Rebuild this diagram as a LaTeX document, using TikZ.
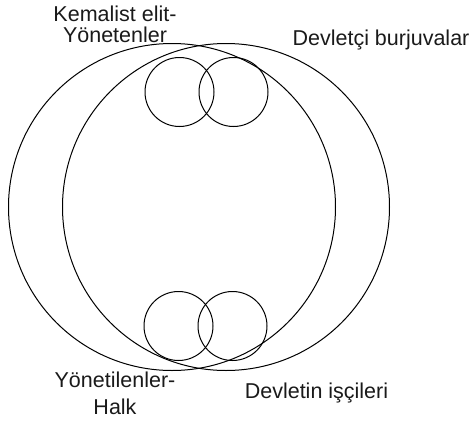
\documentclass[tikz,border=0pt]{standalone}
\usepackage{fontspec}
\setmainfont{Liberation Sans}
\usetikzlibrary{shapes.geometric, positioning}
\usepackage{xcolor}
\definecolor{ringline}{HTML}{000000}
\definecolor{labeltext}{HTML}{1A1A1A}

\begin{document}
\begin{tikzpicture}[
    x=1pt, y=-1pt,
    font=\fontsize{21.5}{21}\selectfont,
    bigring/.style={draw=ringline, circle, line width=1pt, inner sep=0pt, outer sep=0pt, minimum size=327pt},
    smallring/.style={draw=ringline, circle, line width=1pt, inner sep=0pt, outer sep=0pt, minimum size=69pt},
    lbl/.style={color=labeltext, align=center, inner sep=0pt},
]
\useasboundingbox (0,0) rectangle (472,421);

\node[bigring] (left) at (172,207) {};
\node[bigring] (right) at (226,207) {};

\node[smallring] (topa) at (179.5,92) {};
\node[smallring] (topb) at (233.5,92) {};
\node[smallring] (bota) at (178.5,326) {};
\node[smallring] (botb) at (232.5,326) {};

\node[lbl] (elit) at (115,24) {Kemalist elit-\\Yönetenler};
\node[lbl] (burj) at (381,40) {Devletçi burjuvalar};
\node[lbl, font=\fontsize{21.5}{27}\selectfont] (halk) at (115,393) {Yönetilenler-\\Halk};
\node[lbl] (isci) at (316.5,393) {Devletin işçileri};
\end{tikzpicture}
\end{document}
